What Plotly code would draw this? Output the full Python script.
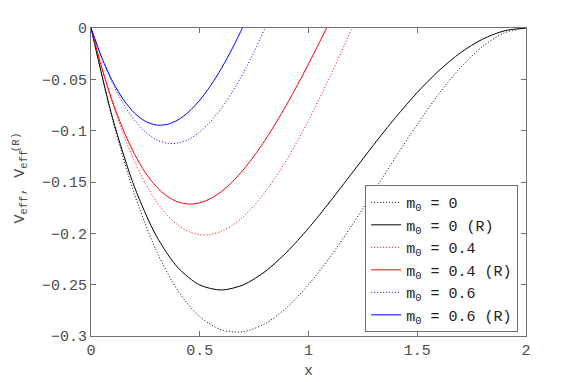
import plotly.graph_objects as go

# x grids
x_black = [0, 0.1, 0.2, 0.3, 0.4, 0.5, 0.6, 0.7, 0.8, 0.9, 1.0,
           1.1, 1.2, 1.3, 1.4, 1.5, 1.6, 1.7, 1.8, 1.9, 2.0]
x_red = [0, 0.05, 0.1, 0.15, 0.2, 0.25, 0.3, 0.35, 0.4, 0.45, 0.5, 0.55, 0.6,
         0.65, 0.7, 0.75, 0.8, 0.85, 0.9, 0.95, 1.0, 1.05, 1.1, 1.15, 1.2, 1.25]
x_blue = [0, 0.05, 0.1, 0.15, 0.2, 0.25, 0.3, 0.35, 0.4, 0.45, 0.5, 0.55, 0.6,
          0.65, 0.7, 0.75, 0.8, 0.85]

# m0 = 0
v_m0 = [0, -0.0903, -0.162, -0.2168, -0.256, -0.2813, -0.294, -0.2958, -0.288,
        -0.2723, -0.25, -0.2228, -0.192, -0.1593, -0.126, -0.0938, -0.064,
        -0.0383, -0.018, -0.0048, 0]
v_m0_R = [0, -0.0883, -0.1549, -0.2024, -0.2335, -0.2503, -0.2552, -0.2502,
          -0.2373, -0.2183, -0.195, -0.1688, -0.1413, -0.1137, -0.0872, -0.0628,
          -0.0415, -0.0239, -0.0109, -0.0028, 0]
# m0 = 0.4
v_m04 = [0, -0.0395, -0.0743, -0.1043, -0.13, -0.1514, -0.1688, -0.1822, -0.192,
         -0.1983, -0.2013, -0.2011, -0.198, -0.1922, -0.1838, -0.173, -0.16,
         -0.145, -0.1283, -0.1098, -0.09, -0.0689, -0.0468, -0.0237, 0, 0.0242]
v_m04_R = [0, -0.039, -0.0723, -0.1001, -0.1229, -0.1409, -0.1544, -0.1639,
           -0.1695, -0.1715, -0.1703, -0.1661, -0.1592, -0.1498, -0.1382,
           -0.1246, -0.1093, -0.0925, -0.0743, -0.0551, -0.035, -0.0142, 0.0072]
# m0 = 0.6
v_m06 = [0, -0.0295, -0.0543, -0.0743, -0.09, -0.1014, -0.1088, -0.1122, -0.112,
         -0.1083, -0.1013, -0.0911, -0.078, -0.0622, -0.0438, -0.023, 0, 0.025]
v_m06_R = [0, -0.029, -0.0523, -0.0701, -0.0829, -0.0909, -0.0945, -0.0939,
           -0.0895, -0.0815, -0.0703, -0.0561, -0.0392, -0.0198, 0.0018, 0.0254]

names = ["m<sub>0</sub> = 0", "m<sub>0</sub> = 0 (R)",
         "m<sub>0</sub> = 0.4", "m<sub>0</sub> = 0.4 (R)",
         "m<sub>0</sub> = 0.6", "m<sub>0</sub> = 0.6 (R)"]

series = [
    (x_black, v_m0, "#000000", "1px,2px"),
    (x_black, v_m0_R, "#000000", "solid"),
    (x_red, v_m04, "#ff0000", "1px,2px"),
    (x_red[:len(v_m04_R)], v_m04_R, "#ff0000", "solid"),
    (x_blue, v_m06, "#0000ff", "1px,2px"),
    (x_blue[:len(v_m06_R)], v_m06_R, "#0000ff", "solid"),
]

FONT = "Liberation Mono, Courier New, monospace"
GRAY = "#707070"
TXT = "#4d4d4d"

fig = go.Figure()
for (xs, ys, col, dash), nm in zip(series, names):
    fig.add_trace(go.Scatter(x=xs, y=ys, mode="lines", name=nm,
                             line=dict(color=col, width=1, dash=dash, shape="spline", smoothing=0.8)))

axis_common = dict(showline=True, linecolor=GRAY, linewidth=1, mirror="ticks",
                   ticks="inside", ticklen=5, tickcolor=GRAY, showgrid=False,
                   zeroline=False, automargin=False,
                   tickfont=dict(family=FONT, size=15, color=TXT))

# page body has an 8px default margin; figure sized to fit the window
fig.update_layout(
    width=573, height=374, autosize=False,
    margin=dict(l=83, r=55, t=20, b=46),
    paper_bgcolor="white", plot_bgcolor="white",
    font=dict(family=FONT, size=15, color=TXT),
    xaxis=dict(range=[0, 2], tickvals=[0, 0.5, 1, 1.5, 2],
               title=dict(text="x", standoff=5, font=dict(family=FONT, size=15, color=TXT)),
               **axis_common),
    yaxis=dict(range=[-0.3, 0], tickvals=[0, -0.05, -0.1, -0.15, -0.2, -0.25, -0.3],
               **axis_common),
    legend=dict(x=0.982, xanchor="right", y=0.49, yanchor="top",
                bgcolor="white", bordercolor=GRAY, borderwidth=1,
                font=dict(family=FONT, size=15, color="#222222"), tracegroupgap=0),
    showlegend=True,
)

fig.add_annotation(text="V<sub>eff</sub>, V<sub>eff</sub>", textangle=-90,
                   xref="paper", yref="paper", x=-0.187, y=0.484,
                   showarrow=False, font=dict(family=FONT, size=15, color=TXT))
fig.add_annotation(text="(R)", textangle=-90,
                   xref="paper", yref="paper", x=-0.19, y=0.63,
                   showarrow=False, font=dict(family=FONT, size=11, color=TXT))

fig.write_html("out.html")
